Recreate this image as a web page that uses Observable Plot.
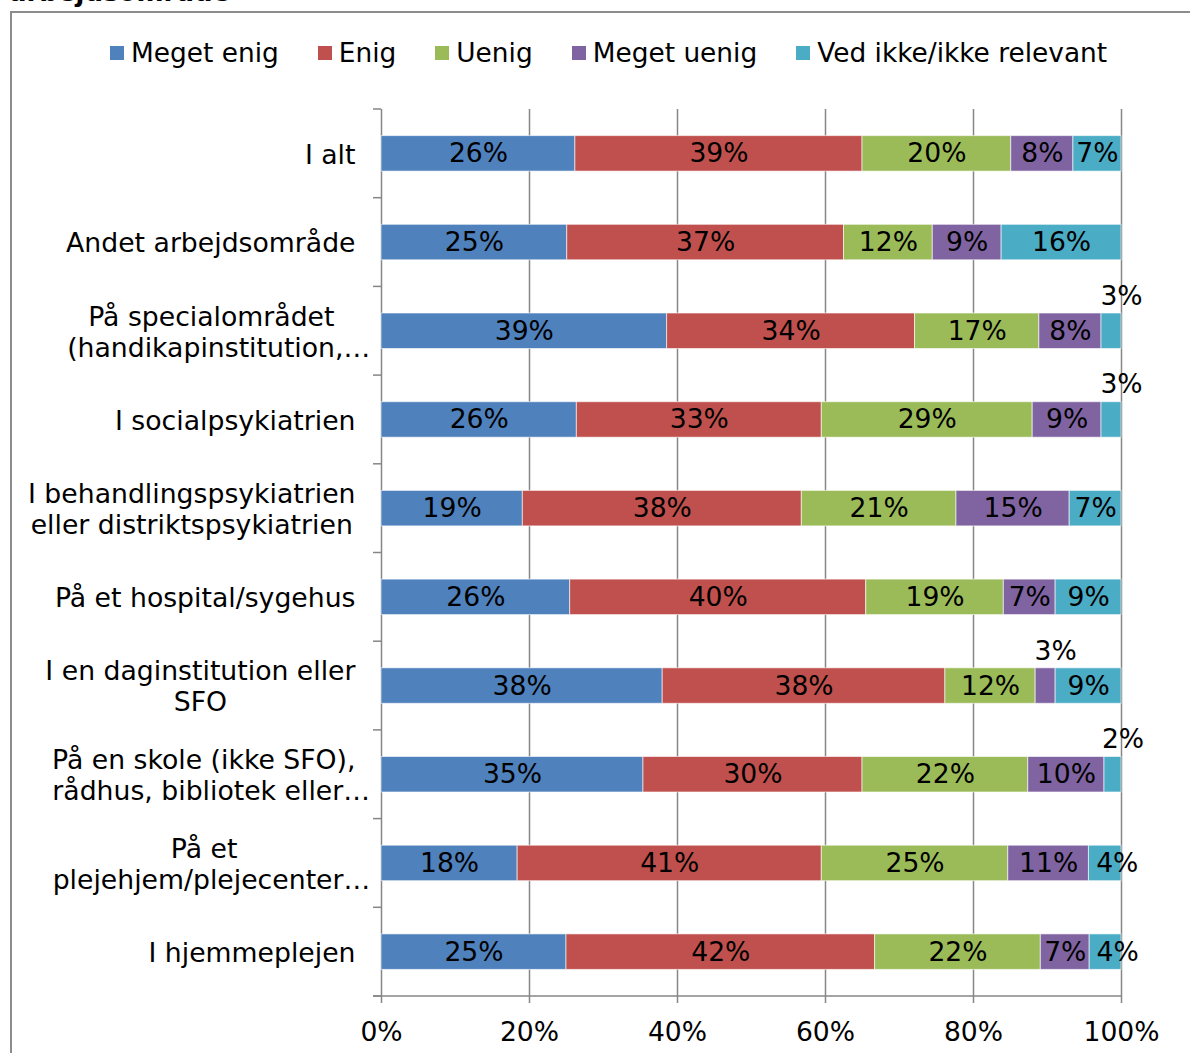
<!DOCTYPE html>
<html><head><meta charset="utf-8">
<script src="https://cdn.jsdelivr.net/npm/d3@7"></script>
<script src="https://cdn.jsdelivr.net/npm/@observablehq/plot@0.6"></script>
<style>
body{margin:0;background:#fff;font-family:"DejaVu Sans",Verdana,sans-serif;color:#000;}
#wrap{position:relative;width:1190px;height:1053px;overflow:hidden;}
#frame{position:absolute;left:10px;top:11px;width:1220px;height:1100px;border:2px solid #8c8c8c;box-sizing:border-box;}
#title{position:absolute;left:9px;top:-23px;font-weight:bold;font-size:26px;line-height:30px;white-space:nowrap;}
#legend{position:absolute;top:36px;left:110px;display:flex;gap:39px;font-size:26.4px;line-height:34px;white-space:nowrap;}
#legend .item{display:flex;align-items:center;}
#legend .sw{width:14px;height:14px;margin-right:7px;}
#chart{position:absolute;left:0;top:0;}
</style>
</head><body>
<div id="wrap">
  <div id="frame"></div>
  <div id="title">arbejdsområde</div>
  <div id="legend"></div>
  <div id="chart"></div>
</div>
<script>
const categories = [
  "I alt",
  "Andet arbejdsområde",
  "På specialområdet\n(handikapinstitution,…",
  "I socialpsykiatrien",
  "I behandlingspsykiatrien\neller distriktspsykiatrien",
  "På et hospital/sygehus",
  "I en daginstitution eller\nSFO",
  "På en skole (ikke SFO),\nrådhus, bibliotek eller…",
  "På et\nplejehjem/plejecenter…",
  "I hjemmeplejen"
];
const series = ["Meget enig", "Enig", "Uenig", "Meget uenig", "Ved ikke/ikke relevant"];
const colors = ["#4F81BD", "#C0504D", "#9BBB59", "#8064A2", "#4BACC6"];

const megetEnig  = [26.2, 25.1, 38.6, 26.4, 19.1, 25.5, 38.0, 35.4, 18.4, 25.0];
const enig       = [38.8, 37.4, 33.5, 33.1, 37.7, 40.0, 38.2, 29.6, 41.1, 41.7];
const uenig      = [20.1, 12.0, 16.8, 28.5, 20.9, 18.6, 12.2, 22.4, 25.2, 22.4];
const megetUenig = [ 8.4,  9.3,  8.4,  9.3, 15.3,  7.0,  2.7, 10.3, 10.9,  6.6];
const vedIkke    = [ 6.5, 16.2,  2.7,  2.7,  7.0,  8.9,  8.9,  2.3,  4.4,  4.3];
const seriesValues = [megetEnig, enig, uenig, megetUenig, vedIkke];
const xTicks = [0, 20, 40, 60, 80, 100];

const rows = categories.flatMap((c, i) => series.map((s, j) => ({cat: c, series: s, value: seriesValues[j][i]})));
const pct = v => Math.round(v) + "%";
const lastSeries = series[series.length - 1];
const isTiny = d => d.value < 3.5;
const isEdge = d => !isTiny(d) && d.series === lastSeries && d.value < 5;

// legend
const legend = document.getElementById("legend");
series.forEach((s, i) => {
  const it = document.createElement("div"); it.className = "item";
  const sw = document.createElement("div"); sw.className = "sw"; sw.style.background = colors[i];
  const tx = document.createElement("span"); tx.textContent = s;
  it.append(sw, tx); legend.append(it);
});

function catTicks(index, scales, values, dimensions) {
  const y = scales.y;
  const {marginTop, marginBottom, marginLeft, marginRight, width, height} = dimensions;
  const bw = y.bandwidth ? y.bandwidth() : 0;
  const centers = categories.map(c => y(c) + bw / 2);
  const b = [marginTop];
  for (let i = 0; i < centers.length - 1; i++) b.push((centers[i] + centers[i + 1]) / 2);
  b.push(height - marginBottom);
  const g = d3.create("svg:g");
  g.selectAll("line.t").data(b).join("line")
    .attr("x1", marginLeft - 8).attr("x2", marginLeft)
    .attr("y1", d => d).attr("y2", d => d)
    .attr("stroke", "#868686").attr("stroke-width", 1.5);
  g.append("line")
    .attr("x1", marginLeft - 8).attr("x2", width - marginRight)
    .attr("y1", height - marginBottom).attr("y2", height - marginBottom)
    .attr("stroke", "#868686").attr("stroke-width", 1.5);
  return g.node();
}

const stackOpts = {x: "value", y: "cat", z: "series", order: series, fill: "black", fontSize: 26.6};
const plot = Plot.plot({
  width: 1190, height: 1053,
  marginLeft: 381, marginRight: 69, marginTop: 109, marginBottom: 57,
  style: {fontFamily: '"DejaVu Sans", Verdana, sans-serif', fontSize: "26px", background: "transparent", overflow: "visible", color: "#000"},
  x: {domain: [0, 100], axis: null},
  y: {domain: categories, paddingInner: 0.6, paddingOuter: 0.3, round: false, axis: null},
  color: {domain: series, range: colors},
  marks: [
    Plot.gridX({ticks: [20, 40, 60, 80, 100], stroke: "#868686", strokeOpacity: 1, strokeWidth: 1.5}),
    Plot.ruleX([0], {stroke: "#868686", strokeWidth: 1.5}),
    catTicks,
    Plot.barX(rows, {x: "value", y: "cat", fill: "series", z: "series", order: series, stroke: "white", strokeWidth: 1, strokeOpacity: 0.6}),
    Plot.text(rows, Plot.stackX({...stackOpts, text: d => (!isTiny(d) && !isEdge(d)) ? pct(d.value) : ""})),
    Plot.text(rows, Plot.stackX({...stackOpts, text: d => isEdge(d) ? pct(d.value) : "", dx: 12})),
    Plot.text(rows, Plot.stackX({...stackOpts, text: d => isTiny(d) ? pct(d.value) : "", dx: 10, dy: -35})),
    Plot.axisX({ticks: xTicks, tickSize: 7, tickPadding: 19, tickFormat: d => d + "%", stroke: "#868686", strokeWidth: 1.5, fill: "black", fontSize: 26.6, label: null}),
    Plot.text(categories, {y: d => d, text: d => d, frameAnchor: "left", textAnchor: "end", dx: -26, lineHeight: 1.16, fill: "black", fontSize: 26.7})
  ]
});
document.getElementById("chart").append(plot);

// center lines of multi-line category labels within their block (truncated lines let part of the "…" overhang)
plot.querySelectorAll("text").forEach(t => {
  const spans = [...t.querySelectorAll("tspan")];
  if (spans.length < 2) return;
  const info = spans.map(s => {
    const txt = s.textContent;
    const full = s.getComputedTextLength();
    const ew = txt.endsWith("…") ? 0.55 * s.getSubStringLength(txt.length - 1, 1) : 0;
    return {w: full - ew, ew};
  });
  const W = Math.max(...info.map(d => d.w));
  spans.forEach((s, i) => s.setAttribute("dx", -(W - info[i].w) / 2 + info[i].ew));
});
</script>
</body></html>
